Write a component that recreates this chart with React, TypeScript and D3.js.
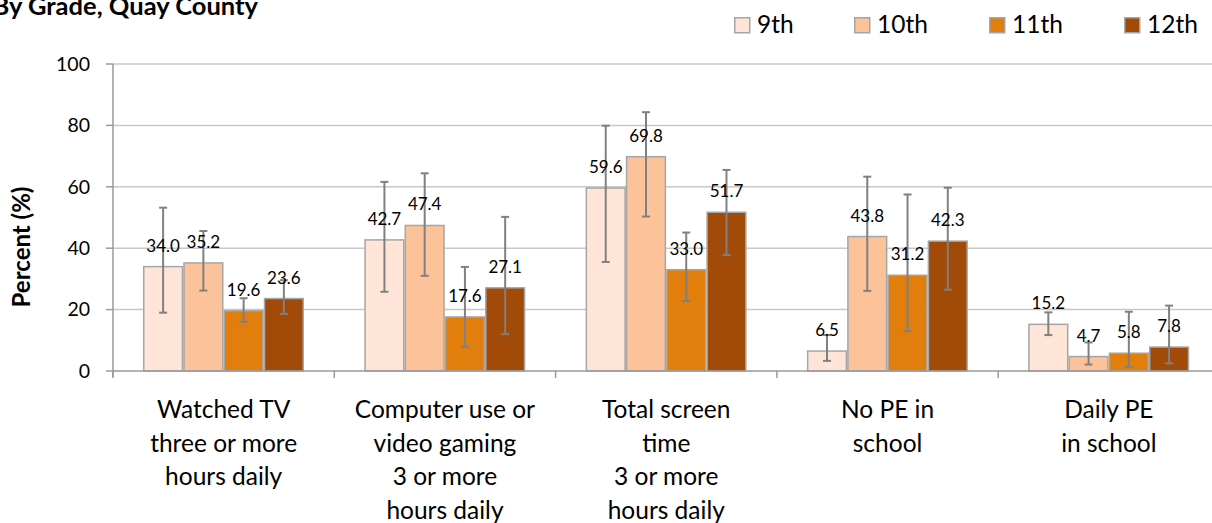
import React from "react";
import * as d3 from "d3";

const categories = [
  ["Watched TV", "three or more", "hours daily"],
  ["Computer use or", "video gaming", "3 or more", "hours daily"],
  ["Total screen", "time", "3 or more", "hours daily"],
  ["No PE in", "school"],
  ["Daily PE", "in school"],
];
const grades = ["9th", "10th", "11th", "12th"];
const values9 = [34.0, 42.7, 59.6, 6.5, 15.2];
const values10 = [35.2, 47.4, 69.8, 43.8, 4.7];
const values11 = [19.6, 17.6, 33.0, 31.2, 5.8];
const values12 = [23.6, 27.1, 51.7, 42.3, 7.8];
const upper9 = [53.2, 61.6, 79.9, 11.7, 19.1];
const lower9 = [19.0, 25.8, 35.5, 3.3, 11.7];
const upper10 = [45.6, 64.4, 84.3, 63.3, 9.3];
const lower10 = [26.2, 31.0, 50.3, 26.1, 2.1];
const upper11 = [23.7, 33.9, 45.1, 57.5, 19.3];
const lower11 = [16.0, 7.9, 22.8, 13.0, 1.3];
const upper12 = [29.6, 50.2, 65.5, 59.7, 21.3];
const lower12 = [18.6, 12.0, 37.8, 26.5, 2.5];
const yTicks = [0, 20, 40, 60, 80, 100];
const title = "By Grade, Quay County";
const yTitle = "Percent (%)";

const colors = ["#FEE5D7", "#FCC39A", "#E27E0C", "#A24A07"];
const seriesValues = [values9, values10, values11, values12];
const seriesUpper = [upper9, upper10, upper11, upper12];
const seriesLower = [lower9, lower10, lower11, lower12];

const W = 1212;
const H = 523;
const left = 113;
const catW = 221.3;
const FONT = "Lato, 'Open Sans', sans-serif";

export default function App() {
  const catIdx = categories.map((_, i) => String(i));
  const x0 = d3
    .scaleBand<string>()
    .domain(catIdx)
    .range([left, left + catW * categories.length])
    .paddingInner(0)
    .paddingOuter(0);
  const x1 = d3
    .scaleBand<string>()
    .domain(grades)
    .range([30, catW - 30.3])
    .padding(0);
  const y = d3.scaleLinear().domain([0, 100]).range([371, 64]);
  const bw = x1.bandwidth();
  const plotRight = left + catW * categories.length;
  const boundaries = d3.range(categories.length + 1).map((i) => left + i * catW);

  const legendX = [734, 854, 989, 1124];

  return (
    <svg
      width={W}
      height={H}
      style={{ position: "absolute", left: 0, top: 0, background: "#fff" }}
      fontFamily={FONT}
    >
      <rect x={0} y={0} width={W} height={H} fill="#fff" />
      {/* title */}
      <text x={258} y={15} textAnchor="end" fontWeight="bold" fontSize={25.5} fill="#000">
        {title}
      </text>
      {/* legend */}
      {grades.map((g, i) => (
        <g key={g}>
          <rect
            x={legendX[i] + 0.75}
            y={17.75}
            width={15}
            height={15}
            fill={colors[i]}
            stroke="#A6A6A6"
            strokeWidth={1.5}
          />
          <text x={legendX[i] + 23} y={33} fontSize={24.5} fill="#000">
            {g}
          </text>
        </g>
      ))}
      {/* gridlines */}
      {yTicks.map((t) =>
        t === 0 ? null : (
          <line
            key={t}
            x1={left}
            x2={plotRight}
            y1={y(t)}
            y2={y(t)}
            stroke="#C8C8C8"
            strokeWidth={1.5}
          />
        )
      )}
      {/* y axis */}
      <line x1={left} x2={left} y1={y(100)} y2={377} stroke="#9A9A9A" strokeWidth={1.5} />
      {yTicks.map((t) => (
        <g key={"yt" + t}>
          <line x1={106} x2={left} y1={y(t)} y2={y(t)} stroke="#9A9A9A" strokeWidth={1.5} />
          <text x={90} y={y(t)} dy="0.35em" textAnchor="end" fontSize={19.5} fill="#000">
            {t}
          </text>
        </g>
      ))}
      <text
        transform={`translate(30,247) rotate(-90)`}
        textAnchor="middle"
        fontWeight="bold"
        fontSize={24}
        fill="#000"
      >
        {yTitle}
      </text>
      {/* bars */}
      {categories.map((_, ci) => (
        <g key={"c" + ci} transform={`translate(${x0(String(ci))},0)`}>
          {grades.map((g, si) => {
            const v = seriesValues[si][ci];
            return (
              <rect
                key={g}
                x={(x1(g) as number) + 0.75}
                y={y(v)}
                width={bw - 1.5}
                height={y(0) - y(v)}
                fill={colors[si]}
                stroke="#A6A6A6"
                strokeWidth={1.5}
              />
            );
          })}
        </g>
      ))}
      {/* x axis */}
      <line x1={left} x2={plotRight} y1={y(0)} y2={y(0)} stroke="#9A9A9A" strokeWidth={1.5} />
      {boundaries.map((bx, i) => (
        <line key={"xt" + i} x1={bx} x2={bx} y1={y(0)} y2={378} stroke="#9A9A9A" strokeWidth={1.5} />
      ))}
      {/* error bars */}
      {categories.map((_, ci) => (
        <g key={"e" + ci} transform={`translate(${x0(String(ci))},0)`}>
          {grades.map((g, si) => {
            const cx = (x1(g) as number) + bw / 2;
            const hi = y(seriesUpper[si][ci]);
            const lo = y(seriesLower[si][ci]);
            return (
              <g key={g} stroke="#808080" strokeWidth={2}>
                <line x1={cx} x2={cx} y1={hi} y2={lo} />
                <line x1={cx - 4} x2={cx + 4} y1={hi} y2={hi} />
                <line x1={cx - 4} x2={cx + 4} y1={lo} y2={lo} />
              </g>
            );
          })}
        </g>
      ))}
      {/* data labels */}
      {categories.map((_, ci) => (
        <g key={"l" + ci} transform={`translate(${x0(String(ci))},0)`}>
          {grades.map((g, si) => {
            const cx = (x1(g) as number) + bw / 2;
            const v = seriesValues[si][ci];
            return (
              <text
                key={g}
                x={cx}
                y={y(v) - 15}
                textAnchor="middle"
                fontSize={17}
                fill="#000"
              >
                {v.toFixed(1)}
              </text>
            );
          })}
        </g>
      ))}
      {/* x labels */}
      {categories.map((lines, ci) => (
        <text
          key={"xl" + ci}
          x={(x0(String(ci)) as number) + catW / 2}
          y={418}
          textAnchor="middle"
          fontSize={24.5}
          fill="#000"
        >
          {lines.map((ln, li) => (
            <tspan key={li} x={(x0(String(ci)) as number) + catW / 2} y={418 + li * 33.7}>
              {ln}
            </tspan>
          ))}
        </text>
      ))}
    </svg>
  );
}
